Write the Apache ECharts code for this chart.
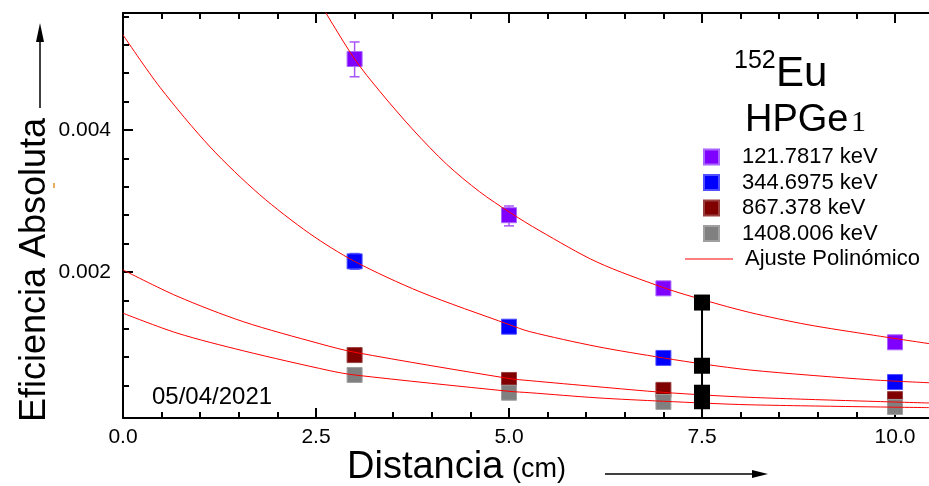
<!DOCTYPE html>
<html lang="es">
<head>
<meta charset="UTF-8">
<script src="https://cdn.jsdelivr.net/npm/echarts@6/dist/echarts.min.js"></script>
</head>
<body style="margin: 0">
<div id="container" style="width: 929px; height: 486px"></div>
<script>
// datos medidos (distancia en cm, eficiencia absoluta)
var energias = ['121.7817 keV', '344.6975 keV', '867.378 keV', '1408.006 keV'];
var colores = ['#8000ff', '#0000ff', '#800000', '#808080'];
var bordes = ['#a865ff', '#5050ff', '#9a4040', '#a0a0a0'];
var distancias = [3, 5, 7, 10];
var efic121 = [0.00500, 0.00280, 0.00177, 0.00101];
var efic344 = [0.00215, 0.00123, 0.00079, 0.00045];
var efic867 = [0.00083, 0.00048, 0.00034, 0.00021];
var efic1408 = [0.00055, 0.00030, 0.00017, 0.00010];

// barras de error (x, min, max)
var err121 = [[3, 0.00475, 0.00524], [5, 0.00265, 0.00293]];
var err344 = [[3, 0.00204, 0.00226]];

// puntos a 7.5 cm
var dist75 = 7.5;
var efic75 = [0.00157, 0.00068, 0.00030, 0.00018];

// curvas de ajuste
var ajuste121 = [[2.6, 0.00570], [3, 0.00500], [3.33, 0.00454], [3.76, 0.00400], [4.19, 0.00352],
  [4.62, 0.00313], [5.01, 0.00284], [5.4, 0.00258], [6.14, 0.00214], [7, 0.00178], [7.54, 0.00160],
  [8.12, 0.00143], [8.86, 0.00126], [9.72, 0.00111], [10.45, 0.00099]];
var ajuste344 = [[0, 0.00534], [0.48, 0.00460], [1.13, 0.00376], [1.77, 0.00309], [2.42, 0.00254],
  [3, 0.00215], [3.85, 0.00172], [5, 0.00126], [5.27, 0.00116], [6.14, 0.00095], [7, 0.00079],
  [7.54, 0.00070], [8.12, 0.00062], [8.86, 0.00055], [9.72, 0.00048], [10.45, 0.00044]];
var ajuste867 = [[0, 0.00203], [0.7, 0.00166], [1.56, 0.00130], [2.55, 0.00099], [3, 0.00087],
  [5, 0.00050], [5.27, 0.00047], [6.14, 0.000385], [7, 0.000305], [8.12, 0.000235], [10.45, 0.000155]];
var ajuste1408 = [[0, 0.00142], [0.7, 0.00114], [1.56, 0.00089], [2.68, 0.00061], [3, 0.00055],
  [5, 0.00032], [5.27, 0.00030], [6.14, 0.000228], [7, 0.00018], [8.12, 0.00013], [10.45, 0.00009]];

// ejes
var xMin = 0, xMax = 10.44;
var yMin = -0.000056, yMax = 0.005648;
var xMajor = [0, 2.5, 5, 7.5, 10];
var xMinor = [0.5, 1, 1.5, 2, 3, 3.5, 4, 4.5, 5.5, 6, 6.5, 7, 8, 8.5, 9, 9.5];
var yMajor = [0.002, 0.004];
var yMinor = [0.0004, 0.0008, 0.0012, 0.0016, 0.0024, 0.0028, 0.0032, 0.0036, 0.0044, 0.0048, 0.0052, 0.0056];

var dom = document.getElementById('container');
var myChart = echarts.init(dom);

function pares(xs, ys) {
  return xs.map(function (x, i) { return [x, ys[i]]; });
}

function ejeX(pos, ticks, len, linea, etiquetas) {
  return {
    type: 'value', position: pos, min: xMin, max: xMax,
    axisLine: {show: linea, onZero: false, lineStyle: {color: '#000', width: 2}},
    axisTick: {show: true, inside: true, length: len, customValues: ticks, lineStyle: {color: '#000', width: 2}},
    axisLabel: etiquetas ? {
      customValues: ticks, color: '#000', fontSize: 21, margin: 9,
      formatter: function (v) { return v.toFixed(1); }
    } : {show: false},
    splitLine: {show: false}
  };
}

function ejeY(ticks, len, linea, etiquetas) {
  return {
    type: 'value', position: 'left', min: yMin, max: yMax,
    axisLine: {show: linea, onZero: false, lineStyle: {color: '#000', width: 2}},
    axisTick: {show: true, inside: true, length: len, customValues: ticks, lineStyle: {color: '#000', width: 2}},
    axisLabel: etiquetas ? {
      customValues: ticks, color: '#000', fontSize: 21, margin: 12,
      formatter: function (v) { return v.toFixed(3); }
    } : {show: false},
    splitLine: {show: false}
  };
}

function barras(datos, color) {
  return {
    type: 'custom', z: 2, silent: true,
    data: datos,
    renderItem: function (params, api) {
      var x = api.value(0);
      var lo = api.coord([x, api.value(1)]);
      var hi = api.coord([x, api.value(2)]);
      var st = {stroke: color, lineWidth: 1.5};
      return {
        type: 'group',
        children: [
          {type: 'line', shape: {x1: lo[0], y1: lo[1], x2: hi[0], y2: hi[1]}, style: st},
          {type: 'line', shape: {x1: lo[0] - 5, y1: lo[1], x2: lo[0] + 5, y2: lo[1]}, style: st},
          {type: 'line', shape: {x1: hi[0] - 5, y1: hi[1], x2: hi[0] + 5, y2: hi[1]}, style: st}
        ]
      };
    }
  };
}

var eficiencias = [efic121, efic344, efic867, efic1408];
var ajustes = [ajuste121, ajuste344, ajuste867, ajuste1408];

var series = [barras(err121, '#a855f7'), barras(err344, '#5555ff')];
eficiencias.forEach(function (ef, i) {
  series.push({
    name: energias[i], type: 'scatter', z: 3,
    symbol: 'rect', symbolSize: 15,
    itemStyle: {color: colores[i], borderColor: bordes[i], borderWidth: 1, opacity: 1},
    data: pares(distancias, ef)
  });
});
ajustes.forEach(function (a) {
  series.push({
    name: 'Ajuste Polinómico', type: 'line', z: 4,
    smooth: 0.3, symbol: 'none', silent: true,
    lineStyle: {color: '#ff0000', width: 1},
    itemStyle: {color: '#ff0000'},
    data: a
  });
});
series.push({
  name: '7.5 cm', type: 'line', z: 5, symbol: 'none',
  lineStyle: {color: '#000', width: 2},
  data: efic75.map(function (v) { return [dist75, v]; }).concat([[dist75, yMin]])
});
series.push({
  name: '7.5 cm', type: 'scatter', z: 6,
  symbol: 'rect', symbolSize: 16,
  itemStyle: {color: '#000', opacity: 1},
  data: efic75.map(function (v) { return [dist75, v]; })
});

var option = {
  animation: false,
  backgroundColor: '#fff',
  textStyle: {fontFamily: 'Liberation Sans, Arial, sans-serif'},
  grid: {left: 123, top: 13, right: 0, bottom: 68},
  xAxis: [
    ejeX('bottom', xMajor, 10, true, true),
    ejeX('bottom', xMinor, 6, false, false),
    ejeX('top', xMajor, 10, true, false),
    ejeX('top', xMinor, 6, false, false)
  ],
  yAxis: [
    ejeY(yMajor, 10, true, true),
    ejeY(yMinor, 6, false, false)
  ],
  legend: [
    {
      data: energias, orient: 'vertical', left: 703, top: 146, padding: 0,
      itemWidth: 15, itemHeight: 15, itemGap: 3.5, icon: 'rect',
      selectedMode: false,
      textStyle: {fontSize: 22, color: '#000', padding: [0, 0, 0, 18]}
    },
    {
      data: [{name: 'Ajuste Polinómico', icon: 'rect'}], orient: 'vertical', left: 685, top: 248, padding: 0,
      itemWidth: 48, itemHeight: 1.2, selectedMode: false,
      itemStyle: {color: '#ff0000'},
      textStyle: {fontSize: 22, color: '#000', padding: [0, 0, 0, 7]}
    }
  ],
  graphic: [
    {type: 'text', x: 734, y: 49, style: {text: '152', font: '25px Liberation Sans', fill: '#000'}},
    {type: 'text', x: 776, y: 74, style: {text: 'Eu', font: '42px Liberation Sans', fill: '#000', verticalAlign: 'middle'}},
    {type: 'text', x: 745, y: 121, style: {text: 'HPGe', font: '38px Liberation Sans', fill: '#000', verticalAlign: 'middle'}},
    {type: 'text', x: 851, y: 123, style: {text: '1', font: '30px Liberation Serif', fill: '#000', verticalAlign: 'middle'}},
    {type: 'text', x: 152, y: 397, style: {text: '05/04/2021', font: '24px Liberation Sans', fill: '#000', verticalAlign: 'middle'}},
    {type: 'text', x: 347, y: 468, style: {text: 'Distancia', font: '38px Liberation Sans', fill: '#000', verticalAlign: 'middle'}},
    {type: 'text', x: 512, y: 470, style: {text: '(cm)', font: '27px Liberation Sans', fill: '#000', verticalAlign: 'middle'}},
    {type: 'text', x: 35, y: 270, rotation: Math.PI / 2,
      style: {text: 'Eficiencia Absoluta', font: '36px Liberation Sans', fill: '#000', align: 'center', verticalAlign: 'middle'}},
    {type: 'line', shape: {x1: 40, y1: 108, x2: 40, y2: 38}, style: {stroke: '#000', lineWidth: 1.5}},
    {type: 'polygon', shape: {points: [[40, 23], [36, 42], [44, 42]]}, style: {fill: '#000'}},
    {type: 'line', shape: {x1: 605, y1: 474, x2: 756, y2: 474}, style: {stroke: '#000', lineWidth: 1.5}},
    {type: 'polygon', shape: {points: [[768, 474], [752, 470], [752, 478]]}, style: {fill: '#000'}},
    {type: 'line', shape: {x1: 54, y1: 183, x2: 54, y2: 188}, style: {stroke: '#e0902a', lineWidth: 1.5}}
  ],
  series: series
};
myChart.setOption(option);
</script>
</body>
</html>
